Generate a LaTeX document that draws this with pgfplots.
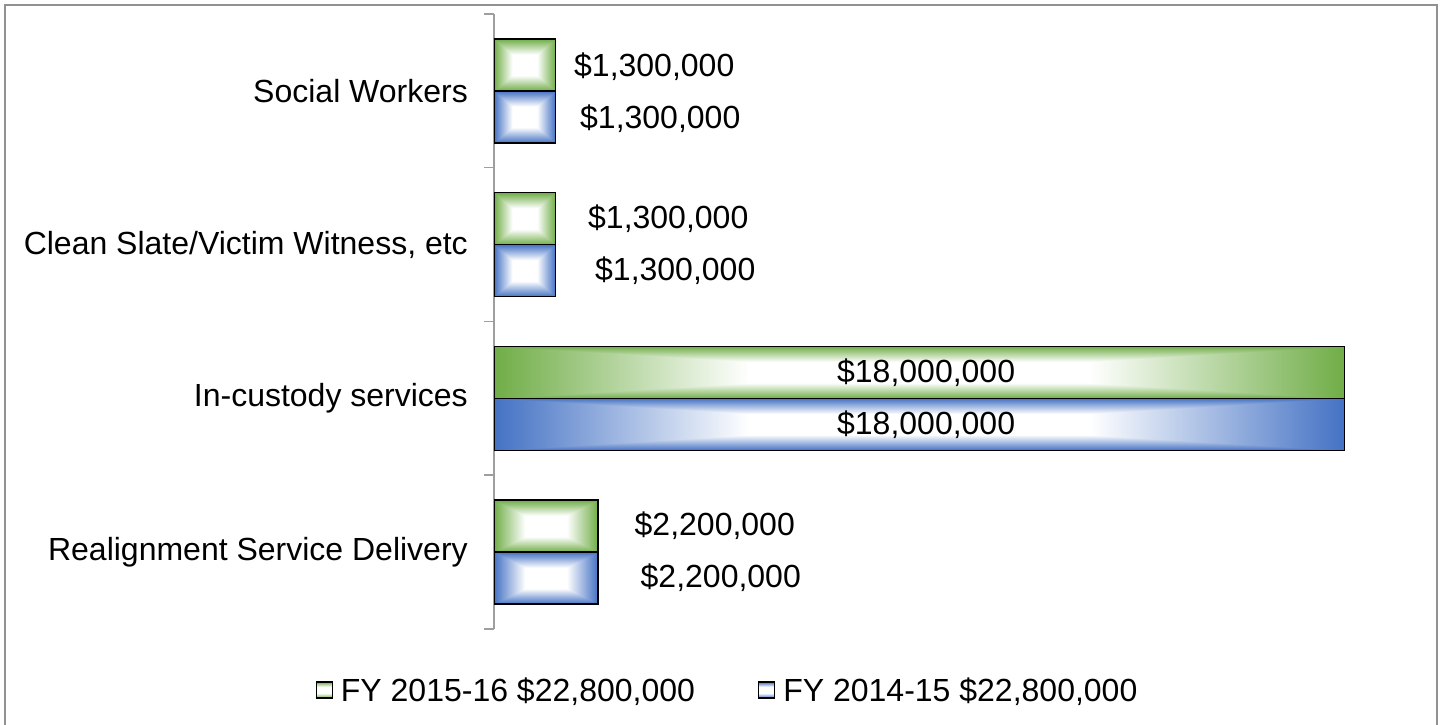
\documentclass[border=0pt]{standalone}
\usepackage{pgfplots}
\pgfplotsset{compat=1.18}
\usepackage{fontspec}
\setmainfont{Liberation Sans}
\definecolor{gG}{RGB}{112,173,71}
\definecolor{bB}{RGB}{68,114,196}
\definecolor{frameG}{RGB}{145,145,145}
\pgfdeclarehorizontalshading{ghor}{100bp}{color(0bp)=(gG); color(25bp)=(gG); color(40bp)=(white); color(60bp)=(white); color(75bp)=(gG); color(100bp)=(gG)}
\pgfdeclareverticalshading{gver}{100bp}{color(0bp)=(gG); color(25bp)=(gG); color(40bp)=(white); color(60bp)=(white); color(75bp)=(gG); color(100bp)=(gG)}
\pgfdeclarehorizontalshading{bhor}{100bp}{color(0bp)=(bB); color(25bp)=(bB); color(40bp)=(white); color(60bp)=(white); color(75bp)=(bB); color(100bp)=(bB)}
\pgfdeclareverticalshading{bver}{100bp}{color(0bp)=(bB); color(25bp)=(bB); color(40bp)=(white); color(60bp)=(white); color(75bp)=(bB); color(100bp)=(bB)}

\pgfplotsset{
  lab/.style={point meta=x,
    nodes near coords={\$\pgfmathprintnumber{\pgfplotspointmeta}},
    every node near coord/.append style={font=\fontsize{32}{38}\selectfont, anchor=west, inner sep=0pt, text=black}},
  gA/.style={xbar, bar shift=0.169, draw=none, shade, shading=ghor, forget plot},
  gB/.style={xbar, bar shift=0.169, draw=black, line width=1.5pt, shade, shading=gver, blend mode=darken, lab},
  bA/.style={xbar, bar shift=-0.169, draw=none, shade, shading=bhor, forget plot},
  bB/.style={xbar, bar shift=-0.169, draw=black, line width=1.5pt, shade, shading=bver, blend mode=darken, lab},
}

\begin{document}
\begin{tikzpicture}[x=1pt,y=1pt]
\useasboundingbox (0,0) rectangle (1443,725);
\clip (0,0) rectangle (1443,725);
\draw[line width=2pt, frameG] (5,-20) rectangle (1437,720);
\begin{axis}[
  scale only axis,
  width=926pt, height=615pt,
  at={(494pt,96pt)}, anchor=south west,
  xmin=0, xmax=19.6e6,
  ymin=-0.5, ymax=3.5,
  axis x line=none,
  axis y line*=left,
  y axis line style={draw=black!38, line width=1.5pt},
  xtick=\empty,
  ytick={0,1,2,3},
  yticklabels={Realignment Service Delivery, In-custody services, {Clean Slate/Victim Witness, etc}, Social Workers},
  major tick length=0pt,
  tick align=outside,
  yticklabel style={font=\fontsize{32}{38}\selectfont, inner sep=0pt, xshift=-26pt},
  extra y ticks={-0.5,0.5,1.5,2.5,3.5},
  extra y tick labels={},
  extra y tick style={major tick length=10pt, tick style={draw=black!38, line width=1.5pt}},
  bar width=0.338,
  /pgf/number format/.cd, fixed, precision=0, 1000 sep={,}, assume math mode=true,
  /pgfplots/.cd,
  legend columns=2,
  legend style={at={(0.2527,-0.0992)}, anchor=center, draw=none, fill=none,
    font=\fontsize{32}{38}\selectfont,
    nodes={inner sep=3pt},
    /tikz/every even column/.append style={column sep=60pt}},
  legend image code/.code={\draw[#1, line width=1.2pt] (0pt,-8pt) rectangle (16pt,8pt); \path (21pt,0pt);},
]
% FY 2015-16 (green)
\addplot[gA] coordinates {(1300000,3)};
\addplot[gB, every node near coord/.append style={xshift=18pt, yshift=24pt}] coordinates {(1300000,3)};
\addlegendentry{FY 2015-16 \$22,800,000}
\addplot[gA] coordinates {(1300000,2)};
\addplot[gB, forget plot, every node near coord/.append style={xshift=32pt, yshift=26pt}] coordinates {(1300000,2)};
\addplot[gA] coordinates {(18000000,1)};
\addplot[gB, forget plot, every node near coord/.append style={xshift=-508pt, yshift=26pt}] coordinates {(18000000,1)};
\addplot[gA] coordinates {(2200000,0)};
\addplot[gB, forget plot, every node near coord/.append style={xshift=36pt, yshift=26pt}] coordinates {(2200000,0)};
% FY 2014-15 (blue)
\addplot[bA] coordinates {(1300000,3)};
\addplot[bB, every node near coord/.append style={xshift=24pt, yshift=-28pt}] coordinates {(1300000,3)};
\addlegendentry{FY 2014-15 \$22,800,000}
\addplot[bA] coordinates {(1300000,2)};
\addplot[bB, forget plot, every node near coord/.append style={xshift=39pt, yshift=-26pt}] coordinates {(1300000,2)};
\addplot[bA] coordinates {(18000000,1)};
\addplot[bB, forget plot, every node near coord/.append style={xshift=-508pt, yshift=-26pt}] coordinates {(18000000,1)};
\addplot[bA] coordinates {(2200000,0)};
\addplot[bB, forget plot, every node near coord/.append style={xshift=42pt, yshift=-26pt}] coordinates {(2200000,0)};
\end{axis}
\end{tikzpicture}
\end{document}
